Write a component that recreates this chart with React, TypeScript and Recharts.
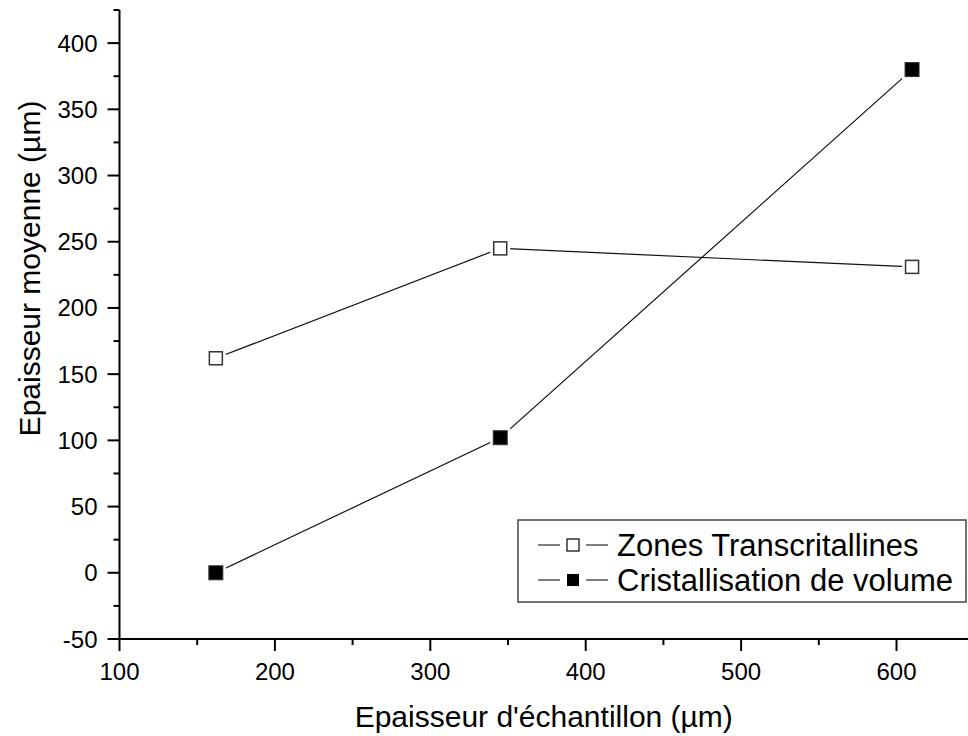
import React from 'react';
import { LineChart, Line, XAxis, YAxis, Label } from 'recharts';

const seriesNames = ['Zones Transcritallines', 'Cristallisation de volume'];
const thickness = [162, 345, 610];
const zonesValues = [162, 245, 231];
const volumeValues = [0, 102, 380];
const xTicks = [100, 150, 200, 250, 300, 350, 400, 450, 500, 550, 600];
const yTicks = [-50, -25, 0, 25, 50, 75, 100, 125, 150, 175, 200, 225, 250, 275, 300, 325, 350, 375, 400, 425];
const xTitle = "Epaisseur d'échantillon (µm)";
const yTitle = 'Epaisseur moyenne (µm)';

const zonesData = thickness.map((x, i) => ({ x, y: zonesValues[i] }));
const volumeData = thickness.map((x, i) => ({ x, y: volumeValues[i] }));

const FONT = '"Liberation Sans", Arial, sans-serif';

const XTick = (props: any) => {
  const { x, y, payload } = props;
  const v = payload.value;
  const major = v % 100 === 0;
  return (
    <g>
      <line x1={x} x2={x} y1={y} y2={y + (major ? 12 : 6)} stroke="#000" strokeWidth={2} />
      {major && (
        <text x={x} y={y + 41} textAnchor="middle" fontSize={24} fill="#000" fontFamily={FONT}>
          {v}
        </text>
      )}
    </g>
  );
};

const YTick = (props: any) => {
  const { x, y, payload } = props;
  const v = payload.value;
  const major = v % 50 === 0;
  return (
    <g>
      <line x1={x - (major ? 12 : 6)} x2={x} y1={y} y2={y} stroke="#000" strokeWidth={2} />
      {major && (
        <text x={x - 22} y={y + 8.5} textAnchor="end" fontSize={24} fill="#000" fontFamily={FONT}>
          {v}
        </text>
      )}
    </g>
  );
};

const OpenSquare = (props: any) => {
  const { cx, cy } = props;
  if (cx == null || cy == null) return null;
  return (
    <g>
      <rect x={cx - 10} y={cy - 10} width={20} height={20} fill="#fff" stroke="none" />
      <rect x={cx - 6.5} y={cy - 6.5} width={13} height={13} fill="#fff" stroke="#333" strokeWidth={1.5} />
    </g>
  );
};

const FilledSquare = (props: any) => {
  const { cx, cy } = props;
  if (cx == null || cy == null) return null;
  return (
    <g>
      <rect x={cx - 10} y={cy - 10} width={20} height={20} fill="#fff" stroke="none" />
      <rect x={cx - 7} y={cy - 7} width={14} height={14} fill="#000" stroke="#333" strokeWidth={1} />
    </g>
  );
};

const XTitle = (props: any) => {
  const vb = props.viewBox;
  return (
    <text x={vb.x + vb.width / 2} y={vb.y + 88} textAnchor="middle" fontSize={30} fill="#000" fontFamily={FONT}>
      {xTitle}
    </text>
  );
};

const YTitle = (props: any) => {
  const vb = props.viewBox;
  const cx = 40;
  const cy = vb.y + vb.height / 2 - 56;
  return (
    <text x={cx} y={cy} textAnchor="middle" fontSize={30} fill="#000" fontFamily={FONT} transform={`rotate(-90 ${cx} ${cy})`}>
      {yTitle}
    </text>
  );
};

const LegendBox = () => (
  <svg width={450} height={84} style={{ position: 'absolute', left: 517, top: 519 }}>
    <rect x={1} y={1} width={448} height={82} fill="#fff" stroke="#444" strokeWidth={1.5} />
    {seriesNames.map((name, i) => {
      const cy = 26 + i * 35;
      return (
        <g key={name}>
          <line x1={21} x2={43} y1={cy} y2={cy} stroke="#000" strokeWidth={1} />
          <line x1={69} x2={91} y1={cy} y2={cy} stroke="#000" strokeWidth={1} />
          {i === 0 ? (
            <rect x={50} y={cy - 6} width={12} height={12} fill="#fff" stroke="#000" strokeWidth={1.2} />
          ) : (
            <rect x={50} y={cy - 6} width={12} height={12} fill="#000" />
          )}
          <text x={100} y={cy + 11} fontSize={31} fill="#000" fontFamily={FONT}>
            {name}
          </text>
        </g>
      );
    })}
  </svg>
);

export default function App() {
  return (
    <div style={{ position: 'absolute', left: 0, top: 0, width: 968, height: 736, background: '#fff' }}>
      <LineChart width={968} height={736} margin={{ top: 10, right: 0, bottom: 0, left: 0 }}>
        <XAxis
          type="number"
          dataKey="x"
          domain={[100, 646]}
          allowDataOverflow
          ticks={xTicks}
          interval={0}
          height={97}
          axisLine={{ stroke: '#000', strokeWidth: 2 }}
          tickLine={false}
          tickSize={0}
          tickMargin={0}
          tick={<XTick />}
        >
          <Label content={<XTitle />} />
        </XAxis>
        <YAxis
          type="number"
          dataKey="y"
          domain={[-50, 425]}
          allowDataOverflow
          ticks={yTicks}
          interval={0}
          width={119.5}
          axisLine={{ stroke: '#000', strokeWidth: 2 }}
          tickLine={false}
          tickSize={0}
          tickMargin={0}
          tick={<YTick />}
        >
          <Label content={<YTitle />} />
        </YAxis>
        <Line
          data={zonesData}
          dataKey="y"
          name={seriesNames[0]}
          stroke="#111"
          strokeWidth={1.2}
          dot={<OpenSquare />}
          activeDot={false}
          isAnimationActive={false}
        />
        <Line
          data={volumeData}
          dataKey="y"
          name={seriesNames[1]}
          stroke="#111"
          strokeWidth={1.2}
          dot={<FilledSquare />}
          activeDot={false}
          isAnimationActive={false}
        />
      </LineChart>
      <LegendBox />
    </div>
  );
}
